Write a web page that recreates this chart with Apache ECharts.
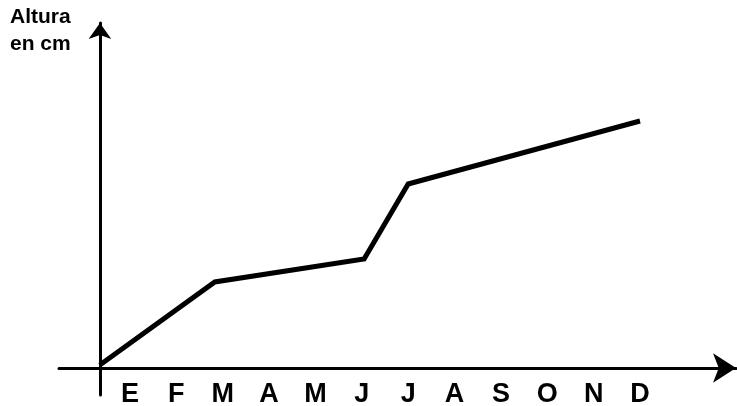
<!DOCTYPE html>
<html>
<head>
<meta charset="utf-8">
<script src="https://cdn.jsdelivr.net/npm/echarts@6/dist/echarts.min.js"></script>
<style>
html,body{margin:0;padding:0;background:#fff;}
#chart{width:737px;height:406px;}
</style>
</head>
<body>
<div id="chart"></div>
<script>
// Data
const monthLabels = ['E','F','M','A','M','J','J','A','S','O','N','D'];
const monthPositions = [1,2,3,4,5,6,7,8,9,10,11,12];
const growthX = [0.35, 2.83, 6.05, 7.0, 12.0];
const growthY = [0.12, 3.44, 4.36, 7.36, 9.88];
const yAxisTitle = 'Altura\nen cm';

const originX = 0.353;
const xMin = -0.53;
const xMax = 14.07;

const chart = echarts.init(document.getElementById('chart'), null, {renderer: 'canvas'});
chart.setOption({
  animation: false,
  backgroundColor: '#ffffff',
  title: {
    text: yAxisTitle,
    left: 10,
    top: 4,
    padding: 0,
    textStyle: {
      fontFamily: 'Liberation Sans, Arial, sans-serif',
      fontWeight: 'bold',
      fontSize: 21,
      lineHeight: 27,
      color: '#000'
    }
  },
  grid: {
    left: 59,
    right: 1,
    top: 23,
    bottom: 11,
    containLabel: false,
    outerBoundsMode: 'none'
  },
  xAxis: [
    {
      type: 'value',
      min: xMin,
      max: xMax,
      axisLine: {
        show: true,
        onZero: true,
        lineStyle: {color: '#000', width: 3},
        symbol: ['none', 'arrow'],
        symbolSize: [22, 23]
      },
      axisTick: {show: false},
      splitLine: {show: false},
      axisLabel: {
        show: true,
        customValues: monthPositions,
        formatter: function (v) {
          const i = monthPositions.indexOf(Math.round(Number(v)));
          return i >= 0 ? monthLabels[i] : '';
        },
        hideOverlap: false,
        margin: -14,
        fontFamily: 'Liberation Sans, Arial, sans-serif',
        fontWeight: 'bold',
        fontSize: 27,
        color: '#000'
      }
    },
    {
      type: 'value',
      min: xMin - originX,
      max: xMax - originX,
      show: false
    }
  ],
  yAxis: {
    type: 'value',
    min: -1.08,
    max: 13.8,
    axisLine: {
      show: true,
      onZero: true,
      onZeroAxisIndex: 1,
      lineStyle: {color: '#000', width: 3},
      symbol: ['none', 'arrow'],
      symbolSize: [17, 16]
    },
    axisTick: {show: false},
    splitLine: {show: false},
    axisLabel: {show: false}
  },
  series: [{
    type: 'line',
    xAxisIndex: 0,
    yAxisIndex: 0,
    data: growthX.map((x, i) => [x, growthY[i]]),
    showSymbol: false,
    symbol: 'none',
    lineStyle: {color: '#000', width: 5, join: 'miter'},
    z: 3
  }]
});
</script>
</body>
</html>
